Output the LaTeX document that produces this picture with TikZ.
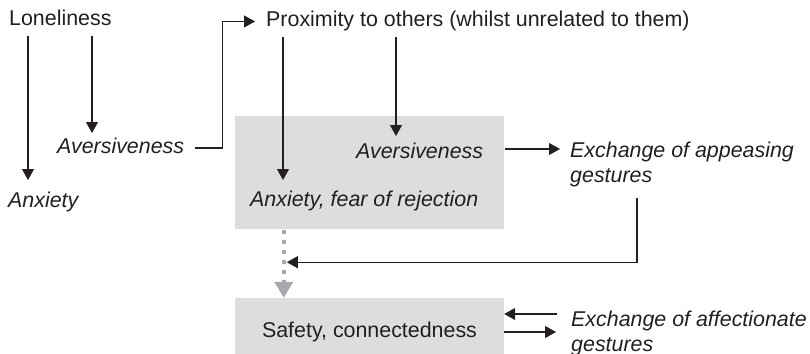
\documentclass[tikz,border=0pt]{standalone}
\usepackage{fontspec}
\setmainfont{Liberation Sans}
\usetikzlibrary{arrows.meta}
\definecolor{ink}{HTML}{231F20}
\definecolor{panel}{HTML}{DCDDDF}
\definecolor{flow}{HTML}{A7A9AC}
\begin{document}
\fontsize{21.4pt}{25pt}\selectfont
\begin{tikzpicture}[x=1pt,y=-1pt,
  lbl/.style={inner sep=0pt, text=ink, anchor=base west},
  it/.style={font=\itshape},
  twoline/.style={inner sep=0pt, text=ink, anchor=north west, align=left, font=\itshape},
  panelbox/.style={fill=panel, draw=none, inner sep=0pt, text=ink, minimum width=269pt},
  arr/.style={draw=ink, line width=1.1pt, -{Triangle[length=11pt,width=12pt]}},
  settle/.style={draw=flow, line width=4pt, dash pattern=on 4pt off 6pt,
                 -{Triangle[length=16pt,width=18pt]}}
]
\useasboundingbox (0,0) rectangle (810,353);

% shaded panels
\node[panelbox, minimum height=113pt] (b1) at (369.5,172.5) {};
\node[panelbox, minimum height=67pt] (b2) at (369.5,331.5) {Safety, connectedness};

% labels
\node[lbl] (lonely) at (9,26) {Loneliness};
\node[lbl,it] (anx1) at (8,207) {Anxiety};
\node[lbl,it] (aver1) at (57,153) {Aversiveness};
\node[lbl] (prox) at (266,27) {Proximity to others (whilst unrelated to them)};
\node[lbl,it] (aver2) at (356,158) {Aversiveness};
\node[lbl,it] (anx2) at (250,206) {Anxiety, fear of rejection};
\node[twoline] (exA) at (570,141.7) {Exchange of appeasing\\gestures};
\node[twoline] (exB) at (571,310.7) {Exchange of affectionate\\gestures};

% connectors
\draw[arr] ([shift={(19pt,-10pt)}]lonely.base west) -- ([shift={(20pt,27pt)}]anx1.base west);
\draw[arr] ([shift={(83pt,-10pt)}]lonely.base west) -- ([shift={(35pt,20pt)}]aver1.base west);
\draw[arr] ([shift={(11pt,5pt)}]aver1.base east) -- ++(27,0) |- ([xshift=-11pt]prox.west);
\draw[arr] ([shift={(17pt,-10pt)}]prox.base west) -- ([shift={(33pt,26pt)}]anx2.base west);
\draw[arr] ([shift={(130pt,-10pt)}]prox.base west) -- ([shift={(40pt,22pt)}]aver2.base west);
\draw[arr] ([shift={(22pt,9pt)}]aver2.base east) -- ([shift={(-10pt,-7.3pt)}]exA.north west);
\draw[arr] ([shift={(67pt,-10.6pt)}]exA.south west) |- ([shift={(52pt,-33pt)}]b1.south west);
\draw[settle] ([shift={(49pt,-1pt)}]b1.south west) -- ([xshift=49pt]b2.north west);
\draw[arr] ([shift={(-14pt,-3.3pt)}]exB.north west) -- ([yshift=17.5pt]b2.east);
\draw[arr] ([yshift=-0.5pt]b2.east) -- ([shift={(-15pt,-21.3pt)}]exB.north west);
\end{tikzpicture}
\end{document}
